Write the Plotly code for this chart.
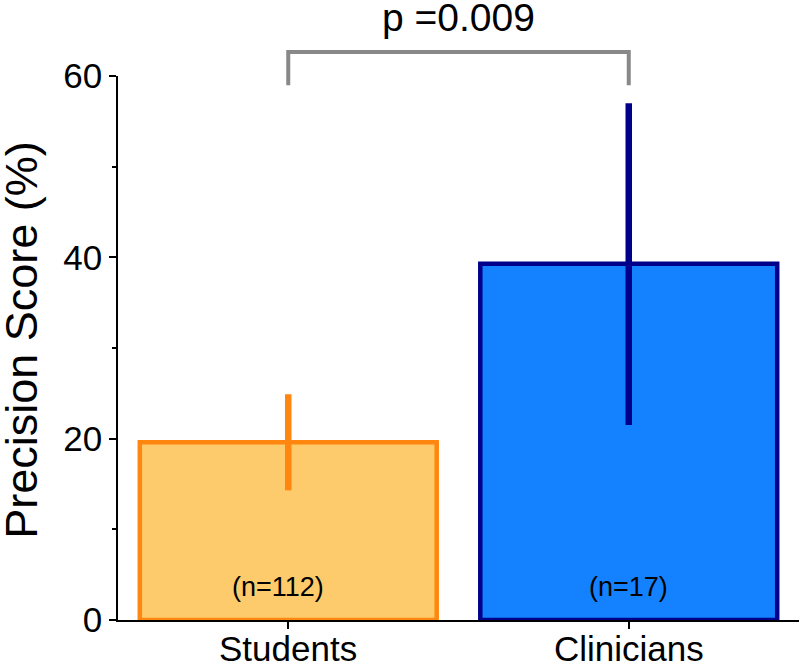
import plotly.graph_objects as go

categories = ["Students", "Clinicians"]
means = [19.6, 39.3]
err_plus = [5.3, 17.7]
err_minus = [5.3, 17.8]
n_labels = ["(n=112)", "(n=17)"]
fill_colors = ["#FDCB6B", "#1482FF"]
line_colors = ["#FF860F", "#00008B"]
p_text = "p =0.009"
y_ticks = [0, 20, 40, 60]
FONT = "Arial, Liberation Sans, Helvetica, sans-serif"

fig = go.Figure()
for i, cat in enumerate(categories):
    fig.add_trace(go.Bar(
        x=[cat], y=[means[i]], width=0.872,
        marker=dict(color=fill_colors[i], line=dict(color=line_colors[i], width=4.5)),
        error_y=dict(type="data", symmetric=False, array=[err_plus[i]], arrayminus=[err_minus[i]],
                     color=line_colors[i], thickness=6.5, width=0),
        showlegend=False,
    ))
    fig.add_annotation(x=cat, y=3.6, xref="x", yref="y", text=n_labels[i], showarrow=False,
                       font=dict(size=27, color="black", family=FONT),
                       xshift=-10 if i == 0 else 0)
    # category label under the axis
    fig.add_annotation(x=cat, y=-0.0515, xref="x", yref="paper", text=cat, showarrow=False,
                       yanchor="middle", font=dict(size=35, color="black", family=FONT))

# significance bracket
fig.add_shape(type="path", xref="x", yref="paper",
              path="M 0,0.983 L 0,1.044 L 1,1.044 L 1,0.983",
              line=dict(color="#888888", width=4))
fig.add_annotation(x=0.5, y=1.107, xref="x", yref="paper", text=p_text, showarrow=False,
                   font=dict(size=39, color="black", family=FONT), yanchor="middle")

# y axis title
fig.add_annotation(x=-0.141, y=0.515, xref="paper", yref="paper", text="Precision Score (%)",
                   textangle=-90, showarrow=False, xanchor="center", yanchor="middle",
                   font=dict(size=45, color="black", family=FONT))

fig.update_layout(
    width=799, height=662,
    margin=dict(l=118, r=0, t=76, b=42),
    paper_bgcolor="white", plot_bgcolor="white",
    barmode="overlay",
    font=dict(family=FONT, color="black"),
    xaxis=dict(range=[-0.5, 1.5], showline=True, linecolor="black", linewidth=1.5,
               ticks="outside", ticklen=7, tickwidth=1.5, tickcolor="black", automargin=False,
               showticklabels=False, showgrid=False, zeroline=False),
    yaxis=dict(range=[0, 60], showline=True, linecolor="black", linewidth=1.5, automargin=False,
               tickvals=y_ticks, ticks="outside", ticklen=7, tickwidth=1.5, tickcolor="black",
               tickfont=dict(size=35, color="black"), showgrid=False, zeroline=False,
               minor=dict(dtick=10, ticks="outside", ticklen=4, tickwidth=1.5, tickcolor="black", showgrid=False)),
)

fig.write_html("out.html", config={"displayModeBar": False},
               post_script="document.body.style.margin='0';document.body.style.overflow='hidden';")
